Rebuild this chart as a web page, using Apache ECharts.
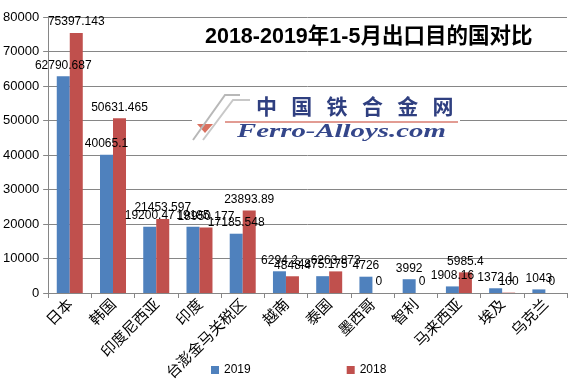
<!DOCTYPE html>
<html><head><meta charset="utf-8">
<script src="https://cdn.jsdelivr.net/npm/echarts@6/dist/echarts.min.js"></script>
<style>html,body{margin:0;padding:0;background:#fff}#c{width:573px;height:388px}</style>
</head><body><div id="c"></div>
<script>
var categories = ['日本','韩国','印度尼西亚','印度','台澎金马关税区','越南','泰国','墨西哥','智利','马来西亚','埃及','乌克兰'];
var values2019 = [62790.687, 40065.1, 19200.47, 19185.0, 17185.548, 6294.2, 4875.175, 4726, 3992, 1908.16, 1372.1, 1043];
var values2018 = [75397.143, 50631.465, 21453.597, 18950.177, 23893.89, 4848.4, 6263.873, 0, 0, 5985.4, 100, 0];
var yTicks = [0, 10000, 20000, 30000, 40000, 50000, 60000, 70000, 80000];
var titleText = '2018-2019年1-5月出口目的国对比';

var chart = echarts.init(document.getElementById('c'));
var cjk = '"Noto Sans CJK SC", sans-serif';
var num = '"Liberation Sans", "DejaVu Sans", sans-serif';
var lbl = {show: true, position: 'top', color: '#000', fontSize: 12, fontFamily: num, distance: 5};
chart.setOption({
  animation: false,
  backgroundColor: '#fff',
  title: {text: titleText, left: 200, top: 21, textStyle: {fontSize: 21.5, fontWeight: 'bold', color: '#000', fontFamily: '"Liberation Sans", "Noto Sans CJK SC", sans-serif'}},
  graphic: [
    {type: 'rect', left: 192, top: 90, shape: {width: 268, height: 58}, style: {fill: '#fff'}, z: 1},
    {type: 'line', shape: {x1: 225, y1: 122, x2: 458, y2: 122}, style: {stroke: '#d97b6f', lineWidth: 1.5}, z: 2},
    {type: 'polygon', shape: {points: [[197, 124], [213, 124], [205, 133]]}, style: {fill: '#d9705f'}, z: 2},
    {type: 'polyline', shape: {points: [[193, 140], [225, 95], [240, 95]]}, style: {stroke: '#b8b8b8', lineWidth: 2, fill: 'none'}, z: 2},
    {type: 'polyline', shape: {points: [[203, 140], [233, 100], [250, 100]]}, style: {stroke: '#c8c8c8', lineWidth: 2, fill: 'none'}, z: 2},
    {type: 'text', x: 256, y: 96, style: {text: '中   国   铁   合   金   网', fill: '#2f3f80', font: 'bold 21px "Noto Sans CJK SC"'}, z: 3},
    {type: 'text', x: 237, y: 123, scaleX: 1.6, style: {text: 'Ferro-Alloys.com', fill: '#34468a', font: 'italic bold 18px "Liberation Serif"'}, z: 3}
  ],
  legend: {bottom: 7, left: 206, itemGap: 96, itemWidth: 8, itemHeight: 8, icon: 'rect',
    textStyle: {fontSize: 12, color: '#000', fontFamily: num}, data: ['2019', '2018']},
  grid: {left: 46, right: 6, top: 17, bottom: 95},
  xAxis: {type: 'category', data: categories,
    axisLine: {lineStyle: {color: '#868686'}},
    axisTick: {show: true, lineStyle: {color: '#868686'}, length: 5},
    axisLabel: {rotate: 45, fontSize: 15, color: '#000', fontFamily: cjk, margin: 8, interval: 0}},
  yAxis: {type: 'value', min: 0, max: 80000, interval: 10000,
    axisLine: {show: true, lineStyle: {color: '#868686'}},
    axisTick: {show: true, lineStyle: {color: '#868686'}, length: 5},
    splitLine: {lineStyle: {color: '#868686'}},
    axisLabel: {fontSize: 13, color: '#000', fontFamily: num, margin: 9, formatter: function (v) { return String(v); }}},
  series: [
    {name: '2019', type: 'bar', data: values2019, barWidth: 13, barGap: '0%', itemStyle: {color: '#4F81BD'}, label: lbl, z: 4},
    {name: '2018', type: 'bar', data: values2018, barWidth: 13, itemStyle: {color: '#C0504D'}, label: lbl, z: 4}
  ]
});
</script></body></html>
